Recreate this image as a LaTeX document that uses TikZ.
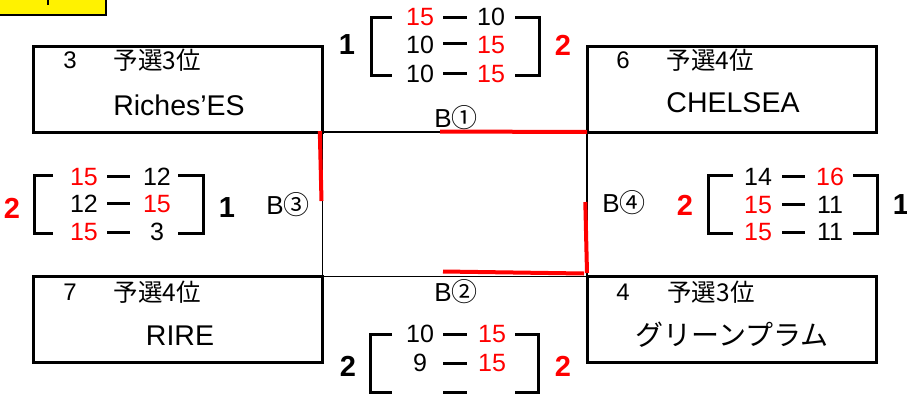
\documentclass[tikz,border=0pt]{standalone}
\usepackage{fontspec}
\setmainfont{Liberation Sans}
\newfontfamily\jp{Noto Sans CJK JP}
\begin{document}
\begin{tikzpicture}[x=1pt,y=-1pt,
  box/.style={draw, line width=3pt, minimum width=289pt, minimum height=86pt, inner sep=0pt, outer sep=0pt},
  sc/.style={font=\fontsize{25}{25}\selectfont, inner sep=0pt},
  win/.style={sc, text=red},
  tot/.style={font=\bfseries\fontsize{29}{29}\selectfont, inner sep=0pt},
  totw/.style={tot, text=red},
  idx/.style={font=\fontsize{24}{24}\selectfont, inner sep=0pt},
  rk/.style={font=\jp\fontsize{24.5}{24.5}\selectfont, inner sep=0pt},
  nm/.style={font=\fontsize{28.5}{28.5}\selectfont, inner sep=0pt},
  lab/.style={font=\fontsize{26}{26}\selectfont, inner sep=0pt},
  brk/.style={line width=3pt},
  dsh/.style={line width=3pt},
  lnk/.style={line width=1.8pt},
  redl/.style={line width=4pt, red}]
\useasboundingbox (0,0) rectangle (907,394);
% yellow tag
\fill[yellow] (0,0) rectangle (106,15);
\draw[line width=2pt] (0,15) -- (106,15) -- (106,0);
\draw[line width=2pt] (48,0) -- (48,5);
% boxes
\node[box] (tl) at (178,89) {};
\node[box] (tr) at (731.5,89) {};
\node[box] (bl) at (178,319.5) {};
\node[box] (br) at (731.5,319.5) {};
% centre rectangle
\draw[lnk] (tl.south east) -- (tr.south west) -- (br.north west) -- (bl.north east) -- cycle;
% red winner lines
\coordinate (r1a) at (440,131.5);
\draw[redl] (r1a) -- (tr.south west);
\coordinate (r3a) at (319.8,131);
\coordinate (r3b) at (321.5,201);
\draw[redl] (r3a) -- (r3b);
\coordinate (r4a) at (585.3,202);
\coordinate (r4b) at (587,273);
\draw[redl] (r4a) -- (r4b);
\coordinate (r2a) at (443,271.5);
\coordinate (r2b) at (584,273.5);
\draw[redl] (r2a) -- (r2b);
% box texts
\node[idx] (tli) at (70,60) {3};
\node[rk] (tlr) at (157.5,60) {予選3位};
\node[nm] (tlt) at (179,105) {Riches’ES};
\node[idx] (tri) at (623,60) {6};
\node[rk] (trr) at (710.5,60) {予選4位};
\node[nm] (trt) at (733,103) {CHELSEA};
\node[idx] (bli) at (70,292) {7};
\node[rk] (blr) at (157.5,292) {予選4位};
\node[nm] (blt) at (180,336) {RIRE};
\node[idx] (bri) at (623,292) {4};
\node[rk] (brr) at (711,292) {予選3位};
\node[nm, font=\jp\fontsize{28}{28}\selectfont] (brt) at (732,335) {グリーンプラム};
% match labels
\node[lab] (b1) at (456,118) {B{\jp ①}};
\node[lab] (b2) at (456,292) {B{\jp ②}};
\node[lab] (b3) at (288,205) {B{\jp ③}};
\node[lab] (b4) at (624,203) {B{\jp ④}};
% top bracket (B1)
\draw[brk] (392,17) -- (371,17) -- (371,75) -- (392,75);
\draw[brk] (515,17) -- (539,17) -- (539,75) -- (515,75);
\draw[dsh] (443,17) -- (467,17);
\draw[dsh] (443,43.5) -- (467,43.5);
\draw[dsh] (443,73.5) -- (467,73.5);
\node[win] (a11) at (420,17) {15};
\node[sc] (a12) at (491,17) {10};
\node[sc] (a21) at (420,45) {10};
\node[win] (a22) at (491,45) {15};
\node[sc] (a31) at (420,74) {10};
\node[win] (a32) at (491,74) {15};
\node[tot] (at1) at (347,45) {1};
\node[totw] (at2) at (563,45) {2};
% left bracket (B3)
\draw[brk] (53,175) -- (34,175) -- (34,233) -- (53,233);
\draw[brk] (178,175) -- (203,175) -- (203,233) -- (178,233);
\draw[dsh] (107,176) -- (130,176);
\draw[dsh] (107,203) -- (130,203);
\draw[dsh] (107,232) -- (130,232);
\node[win] (c11) at (84,177) {15};
\node[sc] (c12) at (157,177) {12};
\node[sc] (c21) at (84,204) {12};
\node[win] (c22) at (157,204) {15};
\node[win] (c31) at (84,232) {15};
\node[sc] (c32) at (157,232) {3};
\node[totw] (ct1) at (12,208) {2};
\node[tot] (ct2) at (227,208) {1};
% right bracket (B4)
\draw[brk] (733,175) -- (708,175) -- (708,233) -- (733,233);
\draw[brk] (853,175) -- (877,175) -- (877,233) -- (853,233);
\draw[dsh] (782,176) -- (805,176);
\draw[dsh] (782,204) -- (805,204);
\draw[dsh] (782,232) -- (805,232);
\node[sc] (d11) at (758,177) {14};
\node[win] (d12) at (830,177) {16};
\node[win] (d21) at (758,205) {15};
\node[sc] (d22) at (830,205) {11};
\node[win] (d31) at (758,232) {15};
\node[sc] (d32) at (830,232) {11};
\node[totw] (dt1) at (685,205) {2};
\node[tot] (dt2) at (901,205) {1};
% bottom bracket (B2)
\draw[brk] (392,334) -- (370,334) -- (370,392) -- (392,392);
\draw[brk] (515,334) -- (538,334) -- (538,392) -- (515,392);
\draw[dsh] (443,334) -- (467,334);
\draw[dsh] (443,363) -- (467,363);
\draw[dsh] (443,392) -- (467,392);
\node[sc] (e11) at (420,334) {10};
\node[win] (e12) at (492,334) {15};
\node[sc] (e21) at (420,363) {9};
\node[win] (e22) at (492,363) {15};
\node[tot] (et1) at (348,366) {2};
\node[totw] (et2) at (563,366) {2};
\end{tikzpicture}
\end{document}
